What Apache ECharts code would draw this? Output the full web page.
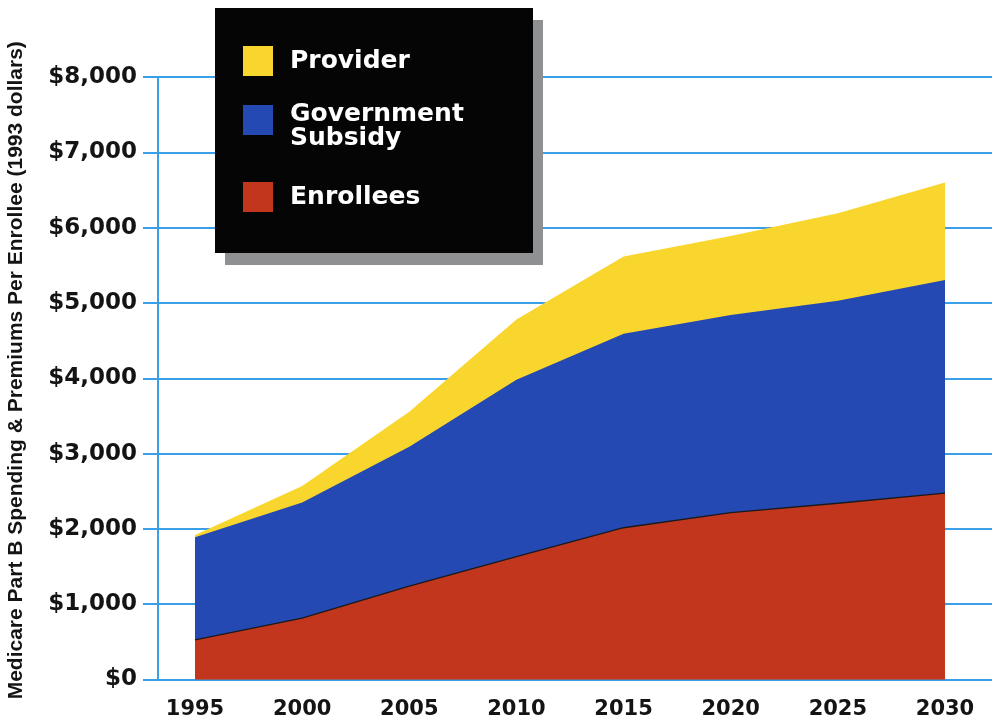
<!DOCTYPE html>
<html>
<head>
<meta charset="utf-8">
<title>Medicare Part B Spending & Premiums Per Enrollee</title>
<script src="https://cdn.jsdelivr.net/npm/echarts@6/dist/echarts.min.js"></script>
<style>
  html, body { margin: 0; padding: 0; background: #ffffff; }
  #chart { width: 992px; height: 723px; }
</style>
</head>
<body>
<div id="chart"></div>
<script>
// Projection years on the horizontal axis
const years = [1995, 2000, 2005, 2010, 2015, 2020, 2025, 2030];

// Per-enrollee amounts in 1993 dollars, one band each, bottom to top
const enrollees  = [525, 815, 1240, 1630, 2015, 2215, 2340, 2475];
const government = [1365, 1535, 1850, 2350, 2575, 2625, 2690, 2830];
const provider   = [30, 220, 465, 800, 1025, 1050, 1160, 1295];

// Tick values for the vertical axis
const yTicks = [0, 1000, 2000, 3000, 4000, 5000, 6000, 7000, 8000];

const GRID_BLUE = '#3a9fe8';
const COLORS = { provider: '#f9d62e', government: '#2449b3', enrollees: '#c2361d' };
const FONT = 'DejaVu Sans';

// Running totals so each band is filled from zero up to its cumulative top;
// the lower bands are painted over the upper ones.
const sumBands = (...bands) => years.map((_, i) => bands.reduce((s, b) => s + b[i], 0));
const topEnrollees  = sumBands(enrollees);
const topGovernment = sumBands(enrollees, government);
const topProvider   = sumBands(enrollees, government, provider);

const toPairs = arr => years.map((y, i) => [y, arr[i]]);

const chart = echarts.init(document.getElementById('chart'), null, { renderer: 'canvas' });

const legendText = {
  color: '#ffffff',
  fontFamily: FONT,
  fontWeight: 'bold',
  fontSize: 25,
  lineHeight: 24,
  padding: [0, 0, 0, 12],
  rich: {
    // thin spacer line that nudges the two-line label below the swatch centre
    s: { fontSize: 1, lineHeight: 12 },
    t: { color: '#ffffff', fontFamily: FONT, fontWeight: 'bold', fontSize: 25, lineHeight: 24 }
  }
};

const legendBase = {
  orient: 'vertical',
  padding: 0,
  itemWidth: 30,
  itemHeight: 30,
  icon: 'rect',
  selectedMode: false,
  itemStyle: { borderWidth: 0 },
  textStyle: legendText,
  z: 20
};

chart.setOption({
  animation: false,
  backgroundColor: '#ffffff',
  grid: {
    left: 158, right: 0, top: 77, bottom: 43.5,
    containLabel: false,
    outerBoundsMode: 'none'
  },
  xAxis: {
    type: 'value',
    min: 1993.273,
    max: 2032.193,
    axisLine: { show: true, lineStyle: { color: GRID_BLUE, width: 2 } },
    axisTick: { show: false },
    splitLine: { show: false },
    axisLabel: {
      customValues: years,
      formatter: v => String(v),
      margin: 20,
      color: '#141414',
      fontFamily: FONT,
      fontWeight: 'bold',
      fontSize: 21
    }
  },
  yAxis: {
    type: 'value',
    min: 0,
    max: 8000,
    interval: 1000,
    name: 'Medicare Part B Spending & Premiums Per Enrollee (1993 dollars)',
    nameLocation: 'middle',
    nameRotate: 90,
    nameGap: 131,
    nameTextStyle: {
      color: '#141414',
      fontFamily: 'Liberation Sans',
      fontWeight: 'bold',
      fontSize: 21,
      padding: [0, 0, 0, 16]
    },
    axisLine: { show: true, lineStyle: { color: GRID_BLUE, width: 2 } },
    axisTick: { show: true, length: 15, lineStyle: { color: GRID_BLUE, width: 2 } },
    splitLine: { show: true, lineStyle: { color: GRID_BLUE, width: 2 } },
    axisLabel: {
      customValues: yTicks,
      formatter: v => '$' + v.toLocaleString('en-US'),
      margin: 21,
      color: '#141414',
      fontFamily: FONT,
      fontWeight: 'bold',
      fontSize: 23
    }
  },
  legend: [
    Object.assign({}, legendBase, { data: ['Provider'], left: 243, top: 46 }),
    Object.assign({}, legendBase, {
      data: ['Government Subsidy'], left: 243, top: 90,
      formatter: () => '{s| }\n{t|Government}\n{t|Subsidy}'
    }),
    Object.assign({}, legendBase, { data: ['Enrollees'], left: 243, top: 182 })
  ],
  graphic: [
    {
      type: 'rect', z: 10, silent: true,
      shape: { x: 225, y: 20, width: 318, height: 245 },
      style: { fill: '#8e9092' }
    },
    {
      type: 'rect', z: 11, silent: true,
      shape: { x: 215, y: 8, width: 318, height: 245 },
      style: { fill: '#050505' }
    }
  ],
  series: [
    {
      name: 'Provider',
      type: 'line',
      data: toPairs(topProvider),
      symbol: 'none',
      z: 2,
      color: COLORS.provider,
      lineStyle: { width: 0 },
      areaStyle: { color: COLORS.provider, opacity: 1, origin: 'start' }
    },
    {
      name: 'Government Subsidy',
      type: 'line',
      data: toPairs(topGovernment),
      symbol: 'none',
      z: 3,
      color: COLORS.government,
      lineStyle: { width: 0 },
      areaStyle: { color: COLORS.government, opacity: 1, origin: 'start' }
    },
    {
      name: 'Enrollees',
      type: 'line',
      data: toPairs(topEnrollees),
      symbol: 'none',
      z: 4,
      color: COLORS.enrollees,
      lineStyle: { color: '#1a1a1a', width: 1.3 },
      areaStyle: { color: COLORS.enrollees, opacity: 1, origin: 'start' }
    }
  ]
});
</script>
</body>
</html>
